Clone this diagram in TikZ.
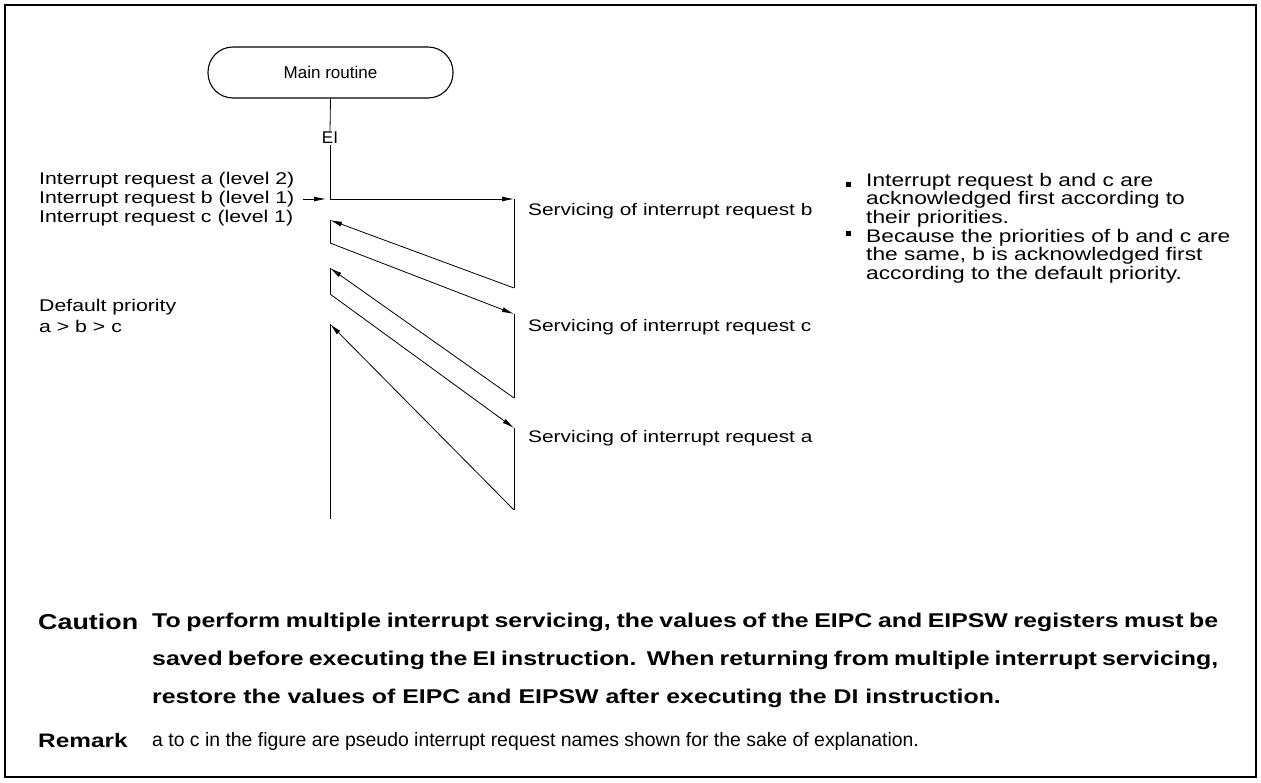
\documentclass[tikz,border=0pt]{standalone}
\usepackage{fontspec}
\setmainfont{Liberation Sans}[FakeStretch=1.25]
\newfontfamily\plainfont{Liberation Sans}
\usetikzlibrary{arrows.meta}
\begin{document}
\begin{tikzpicture}[x=1pt,y=-1pt,
  lbl/.style={inner sep=0pt,anchor=west,font=\fontsize{17}{19}\selectfont},
  svc/.style={inner sep=0pt,anchor=west,font=\fontsize{16.7}{19}\selectfont},
  bul/.style={inner sep=0pt,anchor=west,align=left,font=\fontsize{18.2}{18.5}\selectfont},
  flow/.style={line width=0.8pt},
  arr/.style={line width=0.8pt,-{Latex[length=12pt,width=5pt]}},
  sq/.style={fill=black,inner sep=0pt,minimum size=5pt},
  cautline/.style={inner sep=0pt,anchor=west,font=\bfseries\fontsize{19.9}{24}\selectfont}
]
\useasboundingbox (0,0) rectangle (1261,782);
\draw[line width=1.5pt] (5,5) rectangle (1256,777);

\node[draw,line width=1.1pt,rounded corners=25pt,minimum width=245pt,minimum height=51pt,inner sep=0pt,font=\plainfont\fontsize{17}{19}\selectfont] (main) at (330.5,72.5) {Main routine};
\node[inner sep=1pt,font=\plainfont\fontsize{17}{19}\selectfont] (ei) at (330,138) {EI};

\coordinate (p0) at (330,199);
\coordinate (r1t) at (514,199);
\coordinate (r1b) at (514,288);
\coordinate (l1t) at (330,220);
\coordinate (l1b) at (330,243);
\coordinate (r2t) at (514,314);
\coordinate (r2b) at (514,398);
\coordinate (l2t) at (330,268);
\coordinate (l2b) at (330,294);
\coordinate (r3t) at (514,428);
\coordinate (r3b) at (514,510);
\coordinate (l3t) at (330,324);
\coordinate (l3b) at (330,519);
\coordinate (la) at (326,199);

\draw[flow] (main.south) -- (ei.north);
\draw[flow] (ei.south) -- (p0);
\draw[arr] (p0) -- (r1t);
\draw[flow] (r1t) -- (r1b);
\draw[arr] (r1b) -- (l1t);
\draw[flow] (l1t) -- (l1b);
\draw[arr] (l1b) -- (r2t);
\draw[flow] (r2t) -- (r2b);
\draw[arr] (r2b) -- (l2t);
\draw[flow] (l2t) -- (l2b);
\draw[arr] (l2b) -- (r3t);
\draw[flow] (r3t) -- (r3b);
\draw[arr] (r3b) -- (l3t);
\draw[flow] (l3t) -- (l3b);

\node[lbl] (reqa) at (39,180) {Interrupt request a (level 2)};
\node[lbl] (reqb) at (39,199) {Interrupt request b (level 1)};
\node[lbl] (reqc) at (39,218) {Interrupt request c (level 1)};
\draw[arr,shorten <=8pt] (reqb.east) -- (la);

\node[lbl] (dp1) at (39,307) {Default priority};
\node[lbl] (dp2) at (39,326) {a > b > c};

\node[svc] (sb) at (528,211) {Servicing of interrupt request b};
\node[svc] (sc) at (528,327) {Servicing of interrupt request c};
\node[svc] (sa) at (528,438) {Servicing of interrupt request a};

\node[sq] (b1) at (848,184) {};
\node[sq] (b2) at (848,233) {};
\node[bul] (t1) at (866,200) {Interrupt request b and c are\\acknowledged first according to\\their priorities.};
\node[bul] (t2) at (866,256) {Because the priorities of b and c are\\the same, b is acknowledged first\\according to the default priority.};

\node[inner sep=0pt,anchor=west,font=\bfseries\fontsize{21.5}{24}\selectfont] (caut) at (38,622) {Caution};
\node[cautline] (cl1) at (152,622) {\makebox[1066pt][s]{To perform multiple interrupt servicing, the values of the EIPC and EIPSW registers must be}};
\node[cautline] (cl2) at (152,660) {\makebox[1066pt][s]{saved before executing the EI instruction.\ \ When returning from multiple interrupt servicing,}};
\node[cautline] (cl3) at (152,698) {restore the values of EIPC and EIPSW after executing the DI instruction.};

\node[inner sep=0pt,anchor=west,font=\bfseries\fontsize{19.5}{22}\selectfont] (rem) at (38,741) {Remark};
\node[inner sep=0pt,anchor=west,font=\plainfont\fontsize{19.4}{22}\selectfont] (remtext) at (152,741) {a to c in the figure are pseudo interrupt request names shown for the sake of explanation.};
\end{tikzpicture}
\end{document}
